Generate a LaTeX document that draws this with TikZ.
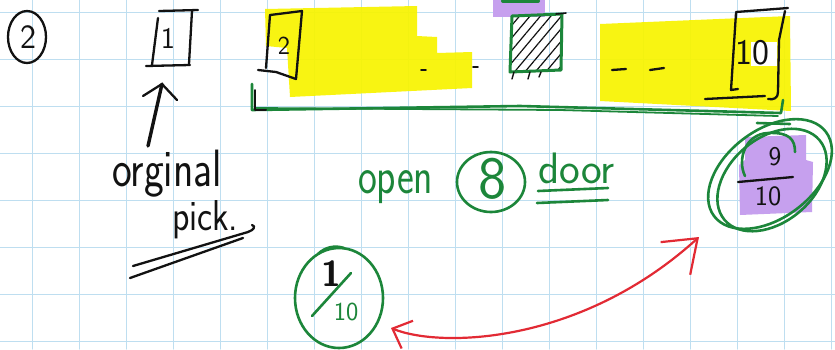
\documentclass[tikz,border=0pt]{standalone}
\usepackage{fontspec}
\usetikzlibrary{arrows.meta,patterns.meta}
\definecolor{gridblue}{RGB}{190,222,240}
\definecolor{hlyellow}{RGB}{248,244,0}
\definecolor{hlpurple}{RGB}{198,160,238}
\definecolor{penGreen}{RGB}{28,134,58}
\definecolor{penRed}{RGB}{226,42,52}
\definecolor{penBlack}{RGB}{18,18,18}
\newcommand\tallword[2][1.3]{\scalebox{1}[#1]{#2}}
\newcommand\handsize[1]{\fontsize{#1}{#1}\selectfont}

\begin{document}
\begin{tikzpicture}[x=1pt,y=-1pt,line cap=round,line join=round,
  gridline/.style={draw=gridblue,line width=1pt},
  ink/.style={draw=penBlack,line width=2.3pt},
  greenink/.style={draw=penGreen,line width=2.6pt},
  redink/.style={draw=penRed,line width=2.2pt},
  hand/.style={inner sep=0pt,outer sep=0pt,anchor=base},
]
\useasboundingbox (0,0) rectangle (835,349);
\fill[white] (0,0) rectangle (835,349);

% squared paper
\foreach \gx in {32,79,...,831} {\draw[gridline] (\gx,0) -- (\gx,349);}
\foreach \gy in {12,59,...,341} {\draw[gridline] (0,\gy) -- (835,\gy);}

% highlighter
\fill[hlyellow,opacity=0.93] (265,9) -- (417,6) -- (417,36) -- (437,37) -- (437,53)
  -- (472,52) -- (472,88) -- (290,97) -- (287,48) -- (266,46) -- cycle;
\fill[hlyellow,opacity=0.93] (600,24) -- (790,16) -- (791,111) -- (600,101) -- cycle;
\fill[white] (751,42) rectangle (777,66);
\fill[hlpurple] (493,0) rectangle (545,17);
\fill[hlpurple] (745,137) -- (806,135) -- (806,160) -- (813,162) -- (812,212)
  -- (740,215) -- (739,165) -- (745,160) -- cycle;

% circled case number
\node[hand,text=penBlack,font=\sffamily\handsize{34}] (caseNo) at (28,48) {2};
\draw[ink] (27,37) ellipse [x radius=19, y radius=26];

% door 1
\node[hand,text=penBlack,font=\sffamily\handsize{30}] (doorOne) at (168,48) {1};
\draw[ink] (159,11) -- (198,10);
\draw[ink] (158,18) -- (152,65);
\draw[ink] (192,11) -- (189,64);
\draw[ink] (146,66) -- (190,65);

% door 2
\node[hand,text=penBlack,font=\sffamily\handsize{26}] (doorTwo) at (284,54) {2};
\draw[ink] (270,15) -- (302,11) -- (296,79) -- (276,72) -- (258,70);
\draw[ink] (270,15) -- (266,68);

% dashes between doors
\draw[ink,line width=1.8pt] (421,70) -- (426,70);
\draw[ink,line width=1.8pt] (473,67) -- (478,67);
\draw[ink] (612,70) -- (626,69);
\draw[ink] (650,70) -- (664,68);

% the opened door
\draw[penGreen,line width=4pt] (503,1) -- (538,1);
\draw[greenink,line width=3pt,pattern={Lines[angle=50,distance=8pt,line width=1.2pt]},pattern color=penBlack]
  (512,16) -- (562,14) -- (561,70) -- (510,72) -- cycle;
\draw[ink,line width=1.6pt] (556,14) -- (566,13);
\draw[ink,line width=1.4pt] (514,72) -- (512,79);
\draw[ink,line width=1.4pt] (530,72) -- (528,79);
\draw[ink,line width=1.4pt] (541,72) -- (539,77);

% door 10
\node[hand,text=penBlack,font=\sffamily\handsize{36}] (doorTen) at (752,64) {10};
\draw[ink] (736,12) -- (788,8);
\draw[ink] (736,13) -- (731,90) -- (738,89);
\draw[ink] (785,11) -- (779,40) -- (778,92) .. controls (778,98) and (774,100) .. (768,99);
\draw[ink] (705,99) -- (765,96);

% brace under doors 2..10
\draw[greenink] (252,84) -- (252,110) -- (520,106) -- (781,113) -- (783,100);
\draw[greenink,line width=1.8pt] (256,108) -- (560,110) -- (778,116);
\draw[greenink] (757,123) -- (790,124);
\draw[ink,line width=2pt] (255,90) -- (255,110) -- (266,110);

% original pick
\node[hand,anchor=base west,text=penBlack,font=\sffamily\handsize{42}] (origWord) at (112,186) {\tallword[1.25]{orginal}};
\node[hand,anchor=base west,text=penBlack,font=\sffamily\handsize{36}] (pickWord) at (172,230) {\tallword[1.2]{pick.}};
\coordinate (pickTail) at (148,146);
\coordinate (tipOne) at (162,84);
\draw[ink,line width=3.4pt] (pickTail) -- (tipOne);
\draw[ink] (143,96) -- (tipOne) -- (177,100);
\draw[ink] (133,266) -- (248,232) .. controls (254,230) and (256,226) .. (252,225);
\draw[ink] (130,278) -- (243,238);

% open 8 doors
\node[hand,anchor=base west,text=penGreen,font=\sffamily\handsize{40}] (openWord) at (358,193) {\tallword{open}};
\node[hand,text=penGreen,font=\sffamily\handsize{60}] (eightNo) at (493,198) {8};
\draw[greenink] (491,182) ellipse [x radius=34, y radius=30];
\node[hand,anchor=base west,text=penGreen,font=\sffamily\handsize{44}] (doorWord) at (538,183) {door};
\draw[greenink] (538,191) -- (608,188);
\draw[greenink] (537,203) -- (608,200);

% 9/10 for switching
\node[hand,text=penBlack,font=\sffamily\handsize{27}] (nineNum) at (775,165) {9};
\node[hand,text=penBlack,font=\sffamily\handsize{28}] (tenDen) at (768,205) {10};
\draw[ink] (738,182) -- (793,177);
\draw[greenink] (745,176) .. controls (737,160) and (745,134) .. (768,133)
  .. controls (790,132) and (795,140) .. (795,152);
\draw[greenink,rotate around={37:(770,174)}] (770,174) ellipse [x radius=70, y radius=44];
\draw[greenink,rotate around={40:(772,180)}] (772,180) ellipse [x radius=62, y radius=42];

% 1/10 for staying
\node[hand,text=penBlack,font=\sffamily\bfseries\handsize{36}] (oneNum) at (331,286) {1};
\node[hand,text=penGreen,font=\sffamily\handsize{26}] (tenLow) at (346,320) {10};
\draw[greenink] (312,316) -- (351,273);
\draw[greenink] (339,298) ellipse [x radius=44, y radius=50];
\draw[greenink] (318,254) .. controls (325,247) and (335,245) .. (344,248);

% comparison arrow
\coordinate (leftEnd) at (391,328);
\coordinate (rightEnd) at (699,237);
\draw[redink,{Straight Barb[length=16pt,width=30pt]}-{Straight Barb[length=30pt,width=44pt]}]
  (leftEnd) .. controls (440,348) and (580,345) .. (rightEnd);
\end{tikzpicture}
\end{document}
